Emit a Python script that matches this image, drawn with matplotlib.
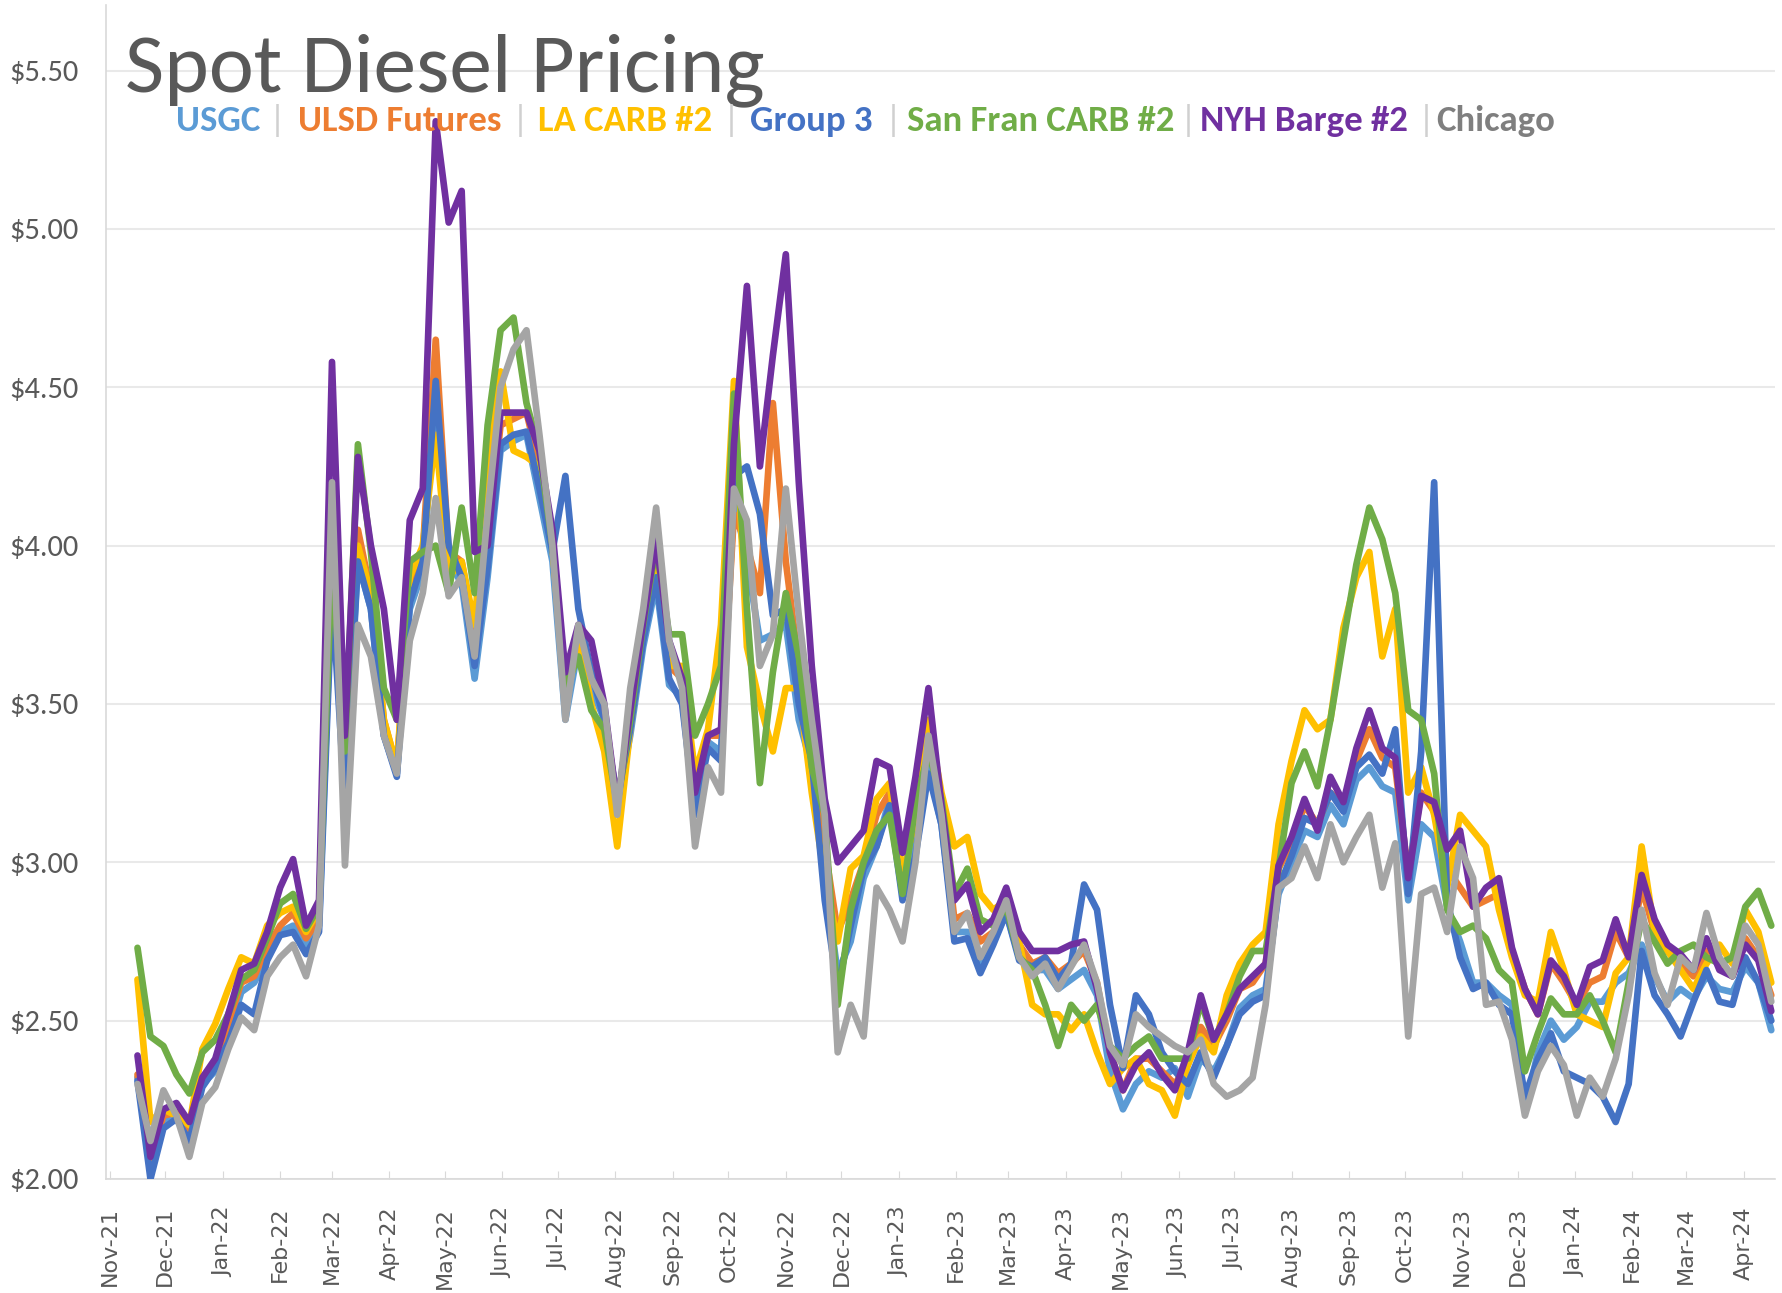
import numpy as np
import matplotlib
matplotlib.use('Agg')
import matplotlib.pyplot as plt
import matplotlib.dates as mdates
from matplotlib.ticker import FuncFormatter
from matplotlib import font_manager as fm

# ---------------- data (weekly, starting 2021-11-16) ----------------
start_date = '2021-11-16'
n_weeks = 127

usgc = [2.32, 2.04, 2.18, 2.20, 2.14, 2.30, 2.34, 2.45, 2.59, 2.62,
        2.70, 2.78, 2.80, 2.73, 2.80, 3.90, 3.25, 3.95, 3.80, 3.40,
        3.28, 3.80, 3.92, 4.48, 3.95, 3.88, 3.58, 3.90, 4.30, 4.33,
        4.35, 4.15, 3.95, 3.45, 3.68, 3.55, 3.45, 3.18, 3.40, 3.68,
        3.88, 3.56, 3.52, 3.15, 3.38, 3.35, 4.15, 3.95, 3.70, 3.72,
        3.75, 3.45, 3.30, 2.95, 2.65, 2.75, 2.95, 3.05, 3.20, 2.90,
        3.05, 3.30, 3.12, 2.78, 2.78, 2.68, 2.75, 2.84, 2.70, 2.66,
        2.66, 2.60, 2.63, 2.66, 2.58, 2.34, 2.22, 2.30, 2.34, 2.32,
        2.35, 2.26, 2.38, 2.34, 2.42, 2.54, 2.58, 2.60, 2.90, 3.00,
        3.10, 3.08, 3.18, 3.12, 3.26, 3.30, 3.24, 3.22, 2.88, 3.12,
        3.08, 2.86, 2.75, 2.62, 2.62, 2.58, 2.55, 2.22, 2.40, 2.50,
        2.44, 2.48, 2.56, 2.56, 2.62, 2.65, 2.74, 2.64, 2.56, 2.60,
        2.57, 2.64, 2.60, 2.59, 2.67, 2.62, 2.47]

ulsd = [2.33, 2.06, 2.20, 2.21, 2.15, 2.32, 2.36, 2.49, 2.62, 2.64,
        2.73, 2.80, 2.84, 2.76, 2.82, 4.00, 3.30, 4.05, 3.85, 3.45,
        3.30, 3.85, 3.98, 4.65, 3.98, 3.95, 3.72, 4.00, 4.38, 4.40,
        4.42, 4.25, 4.00, 3.55, 3.72, 3.62, 3.48, 3.18, 3.45, 3.73,
        3.95, 3.62, 3.58, 3.20, 3.40, 3.40, 4.10, 4.00, 3.85, 4.45,
        3.95, 3.62, 3.40, 3.05, 2.78, 2.88, 3.00, 3.15, 3.22, 2.95,
        3.15, 3.40, 3.18, 2.82, 2.84, 2.75, 2.78, 2.86, 2.74, 2.68,
        2.70, 2.65, 2.68, 2.72, 2.62, 2.40, 2.28, 2.38, 2.38, 2.34,
        2.30, 2.36, 2.48, 2.42, 2.50, 2.60, 2.62, 2.68, 2.98, 3.06,
        3.18, 3.12, 3.22, 3.18, 3.32, 3.42, 3.33, 3.30, 2.96, 3.22,
        3.16, 2.98, 2.92, 2.86, 2.88, 2.90, 2.72, 2.60, 2.52, 2.68,
        2.62, 2.55, 2.62, 2.64, 2.78, 2.70, 2.92, 2.78, 2.72, 2.68,
        2.64, 2.72, 2.68, 2.64, 2.76, 2.70, 2.58]

la_carb = [2.63, 2.18, 2.22, 2.20, 2.17, 2.41, 2.49, 2.60, 2.70, 2.68,
           2.80, 2.84, 2.86, 2.78, 2.85, 3.95, 3.30, 4.00, 3.85, 3.45,
           3.30, 3.90, 4.00, 4.35, 3.90, 3.95, 3.75, 4.25, 4.55, 4.30,
           4.28, 4.25, 4.00, 3.50, 3.70, 3.50, 3.35, 3.05, 3.42, 3.72,
           3.95, 3.62, 3.62, 3.28, 3.42, 3.75, 4.52, 3.68, 3.50, 3.35,
           3.55, 3.55, 3.22, 2.95, 2.75, 2.98, 3.02, 3.20, 3.25, 2.95,
           3.15, 3.45, 3.22, 3.05, 3.08, 2.90, 2.85, 2.88, 2.75, 2.55,
           2.52, 2.52, 2.47, 2.52, 2.40, 2.30, 2.35, 2.38, 2.30, 2.28,
           2.20, 2.36, 2.45, 2.40, 2.58, 2.68, 2.74, 2.78, 3.12, 3.32,
           3.48, 3.42, 3.45, 3.74, 3.90, 3.98, 3.65, 3.80, 3.22, 3.30,
           3.15, 2.92, 3.15, 3.10, 3.05, 2.85, 2.70, 2.58, 2.56, 2.78,
           2.66, 2.52, 2.50, 2.48, 2.65, 2.70, 3.05, 2.78, 2.72, 2.66,
           2.60, 2.68, 2.74, 2.68, 2.85, 2.78, 2.62]

group3 = [2.31, 2.00, 2.16, 2.19, 2.12, 2.29, 2.35, 2.43, 2.55, 2.52,
          2.69, 2.77, 2.78, 2.71, 2.78, 3.85, 3.18, 3.95, 3.80, 3.40,
          3.27, 3.82, 3.95, 4.52, 4.00, 3.90, 3.62, 3.93, 4.32, 4.35,
          4.36, 4.18, 3.98, 4.22, 3.80, 3.60, 3.45, 3.20, 3.42, 3.70,
          3.90, 3.58, 3.50, 3.15, 3.36, 3.32, 4.22, 4.25, 4.10, 3.78,
          3.80, 3.50, 3.32, 2.88, 2.60, 2.80, 2.98, 3.05, 3.18, 2.88,
          3.02, 3.28, 3.12, 2.75, 2.76, 2.65, 2.74, 2.84, 2.69, 2.67,
          2.70, 2.63, 2.68, 2.93, 2.85, 2.55, 2.35, 2.58, 2.52, 2.40,
          2.34, 2.30, 2.40, 2.32, 2.42, 2.52, 2.56, 2.58, 2.92, 3.02,
          3.14, 3.12, 3.22, 3.16, 3.30, 3.34, 3.28, 3.42, 2.90, 3.35,
          4.20, 2.88, 2.70, 2.60, 2.62, 2.55, 2.52, 2.26, 2.38, 2.46,
          2.34, 2.32, 2.30, 2.26, 2.18, 2.30, 2.72, 2.58, 2.52, 2.45,
          2.56, 2.66, 2.56, 2.55, 2.70, 2.62, 2.50]

sf_carb = [2.73, 2.45, 2.42, 2.33, 2.27, 2.40, 2.44, 2.52, 2.63, 2.66,
           2.76, 2.87, 2.90, 2.79, 2.86, 3.95, 3.35, 4.32, 3.98, 3.55,
           3.45, 3.95, 3.98, 4.00, 3.85, 4.12, 3.85, 4.38, 4.68, 4.72,
           4.45, 4.30, 4.00, 3.55, 3.65, 3.48, 3.42, 3.18, 3.45, 3.75,
           4.00, 3.72, 3.72, 3.40, 3.50, 3.62, 4.48, 3.80, 3.25, 3.60,
           3.85, 3.65, 3.30, 3.15, 2.55, 2.85, 3.00, 3.10, 3.15, 2.90,
           3.18, 3.35, 3.20, 2.90, 2.98, 2.82, 2.80, 2.86, 2.70, 2.66,
           2.55, 2.42, 2.55, 2.50, 2.55, 2.42, 2.38, 2.42, 2.45, 2.38,
           2.38, 2.38, 2.56, 2.44, 2.52, 2.64, 2.72, 2.72, 2.98, 3.25,
           3.35, 3.24, 3.45, 3.70, 3.94, 4.12, 4.02, 3.85, 3.48, 3.45,
           3.28, 2.85, 2.78, 2.80, 2.76, 2.66, 2.62, 2.34, 2.46, 2.57,
           2.52, 2.52, 2.58, 2.50, 2.40, 2.62, 2.82, 2.75, 2.68, 2.72,
           2.74, 2.70, 2.68, 2.70, 2.86, 2.91, 2.80]

nyh_barge = [2.39, 2.07, 2.22, 2.24, 2.18, 2.32, 2.38, 2.52, 2.66, 2.68,
             2.78, 2.92, 3.01, 2.80, 2.88, 4.58, 3.40, 4.28, 4.00, 3.80,
             3.45, 4.08, 4.18, 5.34, 5.02, 5.12, 3.98, 4.00, 4.42, 4.42,
             4.42, 4.30, 4.05, 3.60, 3.75, 3.70, 3.50, 3.18, 3.48, 3.76,
             4.02, 3.70, 3.58, 3.22, 3.40, 3.42, 4.32, 4.82, 4.25, 4.60,
             4.92, 4.20, 3.62, 3.20, 3.00, 3.05, 3.10, 3.32, 3.30, 3.03,
             3.27, 3.55, 3.18, 2.88, 2.93, 2.78, 2.82, 2.92, 2.78, 2.72,
             2.72, 2.72, 2.74, 2.75, 2.60, 2.40, 2.28, 2.36, 2.40, 2.33,
             2.28, 2.40, 2.58, 2.44, 2.52, 2.60, 2.64, 2.68, 2.99, 3.08,
             3.20, 3.10, 3.27, 3.19, 3.36, 3.48, 3.36, 3.33, 2.95, 3.21,
             3.19, 3.04, 3.10, 2.86, 2.92, 2.95, 2.73, 2.60, 2.52, 2.69,
             2.64, 2.55, 2.67, 2.69, 2.82, 2.70, 2.96, 2.82, 2.74, 2.71,
             2.66, 2.76, 2.66, 2.64, 2.74, 2.69, 2.53]

chicago = [2.30, 2.12, 2.28, 2.20, 2.07, 2.24, 2.29, 2.41, 2.51, 2.47,
           2.64, 2.70, 2.74, 2.64, 2.80, 4.20, 2.99, 3.75, 3.65, 3.40,
           3.28, 3.70, 3.85, 4.15, 3.84, 3.90, 3.65, 4.10, 4.50, 4.62,
           4.68, 4.35, 4.00, 3.45, 3.75, 3.58, 3.50, 3.15, 3.55, 3.80,
           4.12, 3.70, 3.55, 3.05, 3.30, 3.22, 4.18, 4.08, 3.62, 3.72,
           4.18, 3.78, 3.45, 3.15, 2.40, 2.55, 2.45, 2.92, 2.85, 2.75,
           3.00, 3.40, 3.15, 2.78, 2.84, 2.70, 2.78, 2.88, 2.70, 2.64,
           2.68, 2.60, 2.67, 2.74, 2.62, 2.42, 2.36, 2.52, 2.48, 2.45,
           2.42, 2.40, 2.44, 2.30, 2.26, 2.28, 2.32, 2.55, 2.92, 2.95,
           3.05, 2.95, 3.12, 3.00, 3.08, 3.15, 2.92, 3.06, 2.45, 2.90,
           2.92, 2.78, 3.05, 2.95, 2.55, 2.56, 2.44, 2.20, 2.34, 2.42,
           2.36, 2.20, 2.32, 2.26, 2.38, 2.58, 2.85, 2.65, 2.55, 2.70,
           2.66, 2.84, 2.70, 2.64, 2.80, 2.74, 2.56]

series_names = ['USGC', 'ULSD Futures', 'LA CARB #2', 'Group 3',
                'San Fran CARB #2', 'NYH Barge #2', 'Chicago']
series_values = [usgc, ulsd, la_carb, group3, sf_carb, nyh_barge, chicago]
series_colors = ['#5B9BD5', '#ED7D31', '#FFC000', '#4472C4',
                 '#70AD47', '#7030A0', '#A5A5A5']
label_colors = ['#5B9BD5', '#ED7D31', '#FFC000', '#4472C4',
                '#70AD47', '#7030A0', '#7F7F7F']

yticks = [2.0, 2.5, 3.0, 3.5, 4.0, 4.5, 5.0, 5.5]
title_text = 'Spot Diesel Pricing'

# ---------------- fonts ----------------
def has_font(name):
    try:
        fm.findfont(fm.FontProperties(family=name), fallback_to_default=False)
        return True
    except Exception:
        return False

CAL = 'Carlito' if has_font('Carlito') else 'Open Sans'

# ---------------- figure ----------------
W, H = 1783, 1293
fig = plt.figure(figsize=(W / 100, H / 100), dpi=100)
fig.patch.set_facecolor('white')
ax = fig.add_axes([106 / W, 1 - 1179 / H, (1775 - 106) / W, (1179 - 5) / H])

dates = np.datetime64(start_date) + np.arange(n_weeks) * np.timedelta64(7, 'D')

for vals, col in zip(series_values, series_colors):
    ax.plot(dates, vals, color=col, lw=4.8, solid_joinstyle='round',
            solid_capstyle='round', zorder=3)

ax.set_ylim(2.0, 5.707)
ax.set_xlim(np.datetime64('2021-10-30'), np.datetime64('2024-04-18'))
ax.set_yticks(yticks)
ax.yaxis.set_major_formatter(FuncFormatter(lambda v, p: f'${v:.2f}'))
ax.grid(axis='y', color='#e9e9e9', lw=1.5)
ax.set_axisbelow(True)

ax.xaxis.set_major_locator(mdates.MonthLocator())
ax.xaxis.set_major_formatter(mdates.DateFormatter('%b-%y'))
ax.tick_params(axis='x', rotation=90, labelsize=16, labelcolor='#595959',
               length=6, direction='in', color='#d9d9d9', pad=20)
ytick_size = 22 if CAL == 'Carlito' else 19
ax.tick_params(axis='y', length=0, labelsize=ytick_size, labelcolor='#595959', pad=20)
for lab in ax.get_yticklabels():
    lab.set_family(CAL)
for lab in ax.get_xticklabels():
    lab.set_family('DejaVu Sans')

for s in ['top', 'right']:
    ax.spines[s].set_visible(False)
for s in ['left', 'bottom']:
    ax.spines[s].set_color('#d9d9d9')
    ax.spines[s].set_linewidth(1.2)

# ---------------- title and text legend ----------------
renderer = fig.canvas.get_renderer()

def fit_width(t, target):
    w = t.get_window_extent(renderer).width
    t.set_fontsize(t.get_fontsize() * target / w)

title = fig.text(125 / W, 1 - 91 / H, title_text, color='#595959',
                 family=CAL, fontsize=58, va='baseline', ha='left')
fit_width(title, 764 - 125)

legend_x = [(176, 260), (298, 501), (538, 713), (750, 873),
            (907, 1179), (1200, 1408), (1436, 1555)]
sep_x = [277, 520, 731, 893, 1188, 1426]
leg_base = 1 - 131 / H

texts = []
sizes = []
for name, col, (x0, x1) in zip(series_names, label_colors, legend_x):
    t = fig.text(x0 / W, leg_base, name, color=col, family=CAL,
                 weight='bold', fontsize=26, va='baseline', ha='left')
    w = t.get_window_extent(renderer).width
    sizes.append(26 * (x1 - x0) / w)
    texts.append(t)
common = float(np.median(sizes))
for t in texts:
    t.set_fontsize(common)
for x in sep_x:
    fig.text(x / W, leg_base, '|', color='#d0d0d0', family=CAL,
             fontsize=common, va='baseline', ha='center')

fig.savefig('out.png', dpi=100, facecolor='white')
